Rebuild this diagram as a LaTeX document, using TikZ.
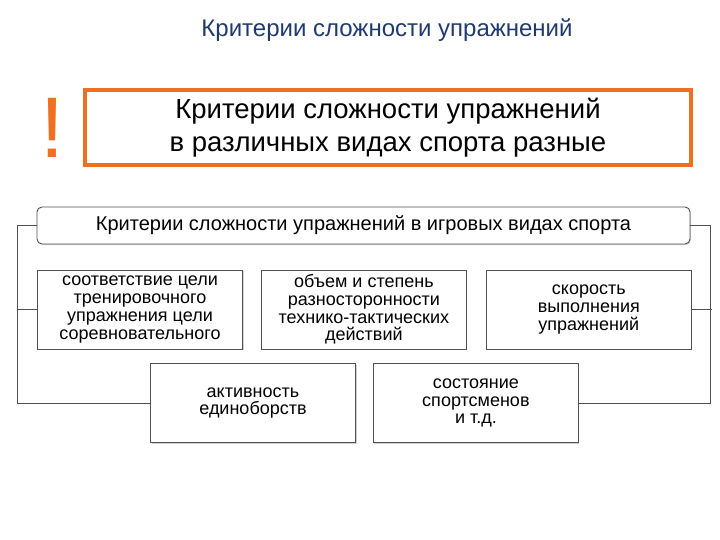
\documentclass[tikz,border=0pt]{standalone}
\usepackage{fontspec}
\setmainfont{Liberation Sans}
\usepackage{xcolor}
\usetikzlibrary{positioning,shadows}

\definecolor{titleblue}{HTML}{1F3A6E}
\definecolor{markorange}{HTML}{F07022}
\definecolor{linegray}{HTML}{505050}

\begin{document}
\begin{tikzpicture}[x=1pt,y=1pt]
	\tikzset{critbox/.style={draw=linegray,fill=white,line width=0.9pt,align=center,
		minimum width=205pt,minimum height=79pt,inner sep=2pt,
		font=\fontsize{18}{17.7}\selectfont,
		drop shadow={shadow xshift=1pt,shadow yshift=-1pt,fill=black!30,opacity=0.6}}}
	\tikzset{link/.style={draw=linegray,line width=0.9pt}}
%	\tikzset{every node/.style={draw=red}}
\useasboundingbox (0,0) rectangle (720,-540);

\node[text=titleblue,font=\fontsize{24}{28}\selectfont] (title) at (387,-30) {Критерии сложности упражнений};

\node[text=markorange,font=\fontsize{86}{86}\selectfont] (bang) at (52,-128) {!};
\node[draw=markorange,line width=4pt,minimum width=606pt,minimum height=75pt,align=center,
	font=\fontsize{27.5}{33}\selectfont] (note) at (388,-127.5)
	{Критерии сложности упражнений\\в различных видах спорта разные};

\node[critbox,rounded corners=5pt,minimum width=653pt,minimum height=37pt,
	font=\fontsize{20}{22}\selectfont] (head) at (363.5,-225.5)
	{Критерии сложности упражнений в игровых видах спорта};

\node[critbox] (goal) at (140,-309.5) {соответствие цели\\тренировочного\\упражнения цели\\соревновательного};
\node[critbox,right=18pt of goal] (volume) {объем и степень\\разносторонности\\технико-тактических\\действий};
\node[critbox,right=19pt of volume] (speed) {скорость\\выполнения\\упражнений};

\node[critbox] (fight) at (253,-403) {активность\\единоборств};
\node[critbox,right=17pt of fight] (state) {состояние\\спортсменов\\и т.д.};

\draw[link] (head.west) -- ++(-19,0) |- (fight.west);
\draw[link] (goal.west) -- ++(-19,0);
\draw[link] (head.east) -- ++(20,0) |- (state.east);
\draw[link] (speed.east) -- ++(20,0);

	\end{tikzpicture}
\end{document}
